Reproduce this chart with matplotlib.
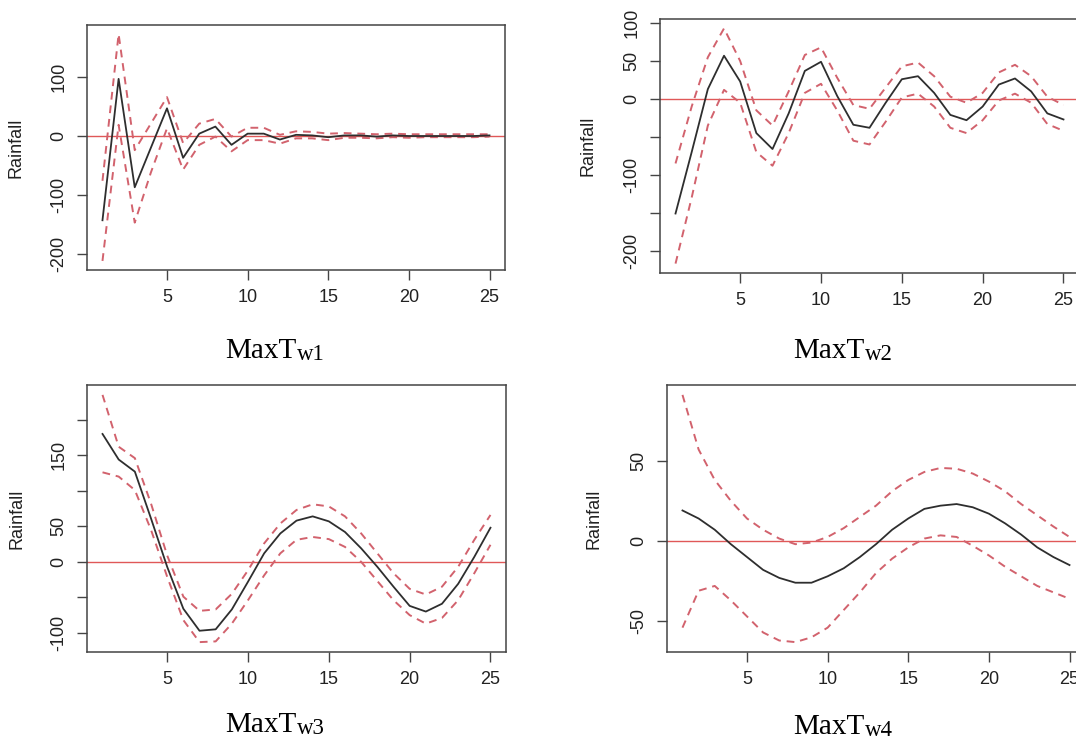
import matplotlib.pyplot as plt
from matplotlib.text import Annotation

plt.rcParams['font.family'] = 'Liberation Sans'

lag = list(range(1, 26))

# fitted effect with upper / lower bounds for each weekly MaxT term
w1_fit = [-143, 97, -87, -20, 47, -37, 4, 16, -15, 4, 4, -6, 2, 1, -2, 1, 1, -1, 1, 0, 0, 0, 0, 0, 1]
w1_upper = [-76, 173, -24, 21, 66, -12, 21, 29, -1, 14, 14, 2, 8, 7, 4, 5, 4, 3, 4, 3, 3, 3, 3, 3, 3]
w1_lower = [-212, 19, -147, -62, 13, -57, -15, -1, -26, -7, -7, -13, -4, -4, -7, -3, -3, -4, -2, -3, -2, -2, -2, -2, -1]

w2_fit = [-151, -70, 13, 57, 23, -45, -66, -19, 37, 49, 4, -34, -38, -5, 26, 30, 8, -21, -28, -10, 19, 27, 10, -19, -27]
w2_upper = [-85, -10, 55, 93, 50, -15, -35, 10, 58, 68, 28, -8, -13, 15, 43, 48, 30, 3, -5, 8, 35, 45, 30, 3, -8]
w2_lower = [-217, -130, -35, 12, -5, -70, -88, -45, 8, 20, -15, -55, -60, -30, 2, 7, -10, -38, -45, -28, -2, 7, -5, -33, -42]

w3_fit = [180, 144, 127, 61, -7, -66, -97, -95, -67, -28, 12, 40, 58, 64, 57, 42, 19, -7, -35, -62, -70, -59, -31, 7, 48]
w3_upper = [235, 162, 146, 82, 9, -49, -69, -67, -45, -12, 26, 54, 73, 81, 78, 64, 40, 12, -16, -38, -46, -35, -7, 31, 66]
w3_lower = [126, 120, 101, 45, -21, -82, -113, -112, -87, -54, -19, 12, 31, 35, 32, 21, 0, -27, -54, -75, -87, -79, -54, -16, 24]

w4_fit = [19, 14, 7, -2, -10, -18, -23, -26, -26, -22, -17, -10, -2, 7, 14, 20, 22, 23, 21, 17, 11, 4, -4, -10, -15]
w4_upper = [91, 57, 38, 25, 14, 7, 1.5, -2, -1, 2.5, 8, 15, 22, 31, 38, 43, 45.5, 45, 42, 37, 31, 23, 16, 9, 2.5]
w4_lower = [-54, -31, -28, -37, -47, -57, -62, -63, -60, -54, -43, -32, -20, -11, -4, 1.5, 3.5, 2.5, -3, -9, -16, -22, -28, -32, -36]

x_ticks = [5, 10, 15, 20, 25]

W, H = 1076, 740
fig = plt.figure(figsize=(W / 100, H / 100), dpi=100)

dash_col = '#d2626d'


def add_box(left, top, right, bottom):
    return fig.add_axes([left / W, 1 - bottom / H, (right - left) / W, (bottom - top) / H])


panels = [
    # box (px), y ticks, y tick labels, ylabel centre x (px), caption (x, baseline), subscript
    ((87, 25, 505, 270), w1_fit, w1_upper, w1_lower,
     [-200, -100, 0, 100], ['-200', '-100', '0', '100'], 18, (225, 358), 'w1'),
    ((660, 19, 1079, 273), w2_fit, w2_upper, w2_lower,
     [-200, -150, -100, -50, 0, 50, 100], ['-200', '', '-100', '', '0', '50', '100'], 589, (793, 358), 'w2'),
    ((87, 385, 506, 652), w3_fit, w3_upper, w3_lower,
     [-100, -50, 0, 50, 100, 150, 200], ['-100', '', '0', '50', '', '150', ''], 18, (225, 732), 'w3'),
    ((667, 385, 1085, 652), w4_fit, w4_upper, w4_lower,
     [-50, 0, 50], ['-50', '0', '50'], 596, (793, 734), 'w4'),
]

for box, fit, upper, lower, yt, ylab, ylab_x, cap, sub in panels:
    ax = add_box(*box)
    ax.axhline(0, color='#e05858', lw=1.0, zorder=1)
    ax.plot(lag, fit, color='#2e2e2e', lw=1.3, zorder=3)
    ax.plot(lag, upper, color=dash_col, lw=1.4, ls=(0, (4, 3)), zorder=2)
    ax.plot(lag, lower, color=dash_col, lw=1.4, ls=(0, (4, 3)), zorder=2)
    ax.set_xlim(0.04, 25.96)
    ax.margins(y=0.04)
    ax.set_xticks(x_ticks)
    ax.set_yticks(yt)
    ax.set_yticklabels(ylab, rotation=90, va='center')
    ax.tick_params(direction='out', length=7, width=1, colors='#444444',
                   labelcolor='#222222', labelsize=13, pad=7)
    for s in ax.spines.values():
        s.set_color('#444444')
        s.set_linewidth(1.1)
    ax.set_ylabel('Rainfall', fontsize=13, color='#222222')
    left, top, right, bottom = box
    # the label anchor sits on the right side of the rotated text
    ax.yaxis.set_label_coords((ylab_x + 7 - left) / (right - left), 0.5)

    main = fig.text(cap[0] / W, 1 - cap[1] / H, 'MaxT', family='Liberation Serif',
                    size=21, ha='left', va='baseline')
    fig.add_artist(Annotation(sub, xy=(1, 0), xycoords=main, xytext=(1, 4),
                              textcoords='offset pixels', family='Liberation Serif',
                              size=16.5, ha='left', va='baseline'))

fig.savefig('out.png', dpi=100)
